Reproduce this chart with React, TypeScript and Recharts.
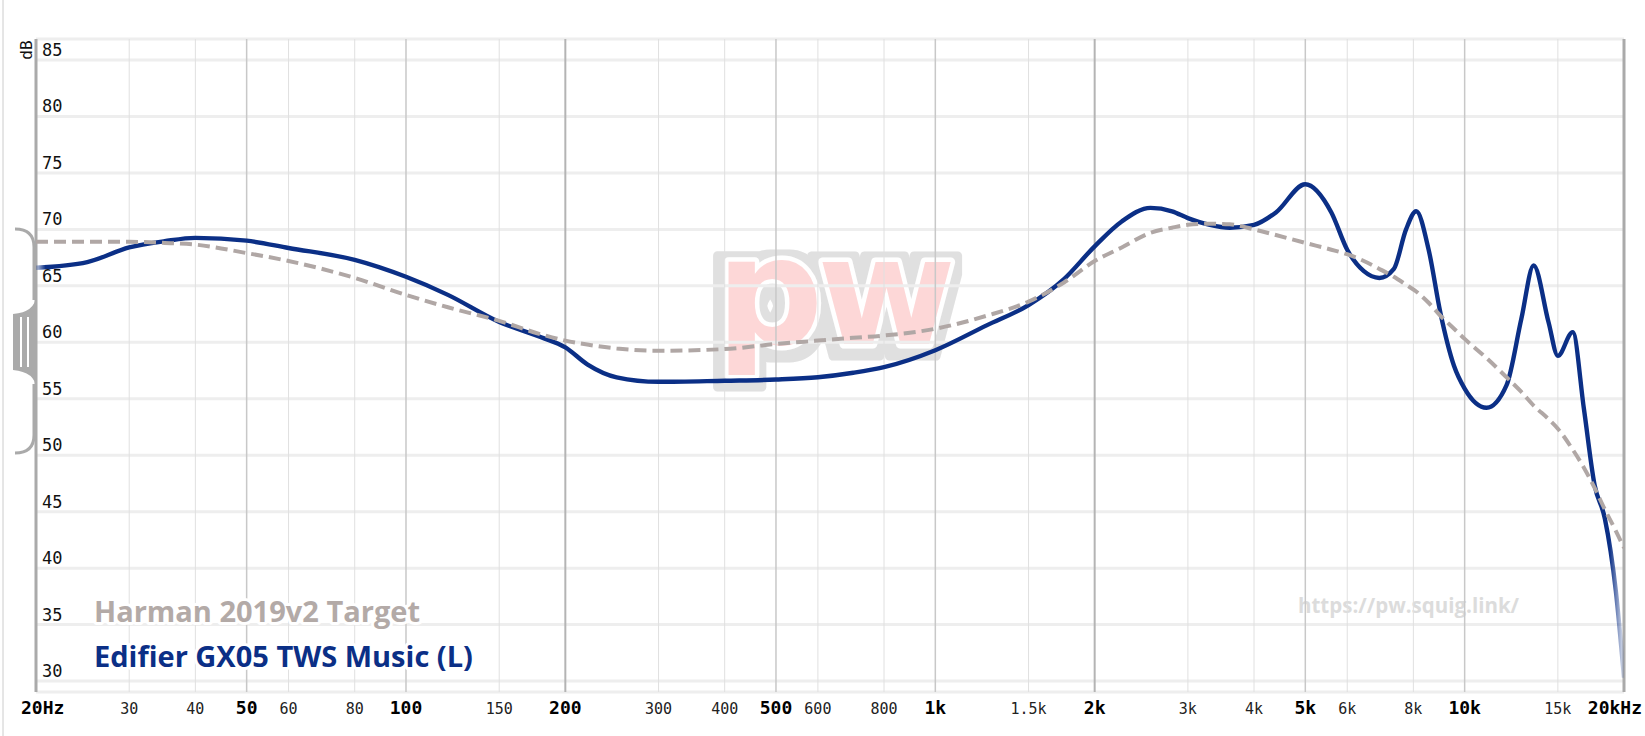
import { LineChart, Line, XAxis, YAxis, CartesianGrid, ReferenceLine } from 'recharts'

const freqs = [
  20, 25, 30, 35, 40, 50, 60, 80, 100, 120,
  150, 180, 200, 220, 250, 300, 400, 500, 600, 700,
  800, 1000, 1250, 1500, 1750, 2000, 2250, 2550, 2800, 3000,
  3300, 3600, 4000, 4400, 5000, 5600, 6000, 6450, 6900, 7350,
  7750, 8100, 8550, 9000, 9550, 10000, 11000, 12000, 12800, 13500,
  14400, 15000, 16000, 16800, 17600, 18400, 19300, 20000,
]

const edifier = [
  66.6, 67.1, 68.4, 68.95, 69.25, 69.0, 68.35, 67.3, 65.8, 64.2,
  61.8, 60.45, 59.55, 58.05, 56.9, 56.5, 56.6, 56.7, 56.9, 57.3,
  57.8, 59.3, 61.5, 63.3, 65.6, 68.5, 70.7, 71.9, 71.6, 71.0,
  70.4, 70.15, 70.4, 71.5, 74.0, 71.5, 68.2, 66.3, 65.7, 66.5,
  70.0, 71.6, 68.2, 62.6, 57.9, 55.9, 54.2, 56.2, 62.1, 66.8,
  61.8, 58.8, 60.9, 54.1, 47.35, 44.4, 38.0, 30.3,
]

const harman = [
  68.9, 68.9, 68.9, 68.8, 68.65, 67.9, 67.2, 65.7, 64.2, 63.1,
  61.9, 60.7, 60.15, 59.8, 59.45, 59.25, 59.4, 59.85, 60.15, 60.4,
  60.6, 61.2, 62.35, 63.6, 65.3, 67.2, 68.4, 69.7, 70.15, 70.4,
  70.5, 70.45, 70.0, 69.5, 68.8, 68.2, 67.8, 67.2, 66.5, 65.8,
  65.1, 64.5, 63.5, 62.35, 61.2, 60.3, 58.6, 56.9, 55.6, 54.4,
  53.2, 52.35, 50.5, 48.9, 47.1, 45.2, 43.3, 41.8,
]

const xTicks = [20, 30, 40, 50, 60, 80, 100, 150, 200, 300, 400, 500, 600, 800, 1000, 1500, 2000, 3000, 4000, 5000, 6000, 8000, 10000, 15000, 20000]
const xLabels = ['20Hz', '30', '40', '50', '60', '80', '100', '150', '200', '300', '400', '500', '600', '800', '1k', '1.5k', '2k', '3k', '4k', '5k', '6k', '8k', '10k', '15k', '20kHz']
const boldTicks = [20, 50, 100, 200, 500, 1000, 2000, 5000, 10000, 20000]
const strongLines = [200, 2000]
const midLines = [50, 100, 500, 1000, 5000, 10000]
const yTicks = [30, 35, 40, 45, 50, 55, 60, 65, 70, 75, 80, 85]

const data = freqs.map((f, i) => ({ f, edifier: edifier[i], harman: harman[i] }))

const MONO = '"DejaVu Sans Mono", monospace'
const SANS = '"Open Sans", "Noto Sans", sans-serif'
const BLUE = '#0b2f86'
const GREY = '#b0a7a5'

function XTick(props: any) {
  const { x, y, payload } = props
  const v = payload.value
  const i = xTicks.indexOf(v)
  const bold = boldTicks.includes(v)
  let anchor = 'middle'
  let dx = 0
  if (v === 20) { anchor = 'start'; dx = -15 }
  if (v === 20000) { anchor = 'end'; dx = 18 }
  return (
    <text x={x + dx} y={y + 22} textAnchor={anchor} fontFamily={MONO}
      fontSize={bold ? 18 : 15} fontWeight={bold ? 'bold' : 'normal'} fill={bold ? '#000' : '#222'}>
      {xLabels[i]}
    </text>
  )
}

function YTick(props: any) {
  const { y, payload } = props
  return (
    <text x={42} y={y - 4} fontFamily={MONO} fontSize={17} fill="#111">{payload.value}</text>
  )
}

function gridColor(f: number) {
  if (f === 20 || f === 20000) return { stroke: '#aaaaaa', w: 3 }
  if (strongLines.includes(f)) return { stroke: '#b4b4b4', w: 2 }
  if (midLines.includes(f)) return { stroke: '#c8c8c8', w: 1.5 }
  return { stroke: '#e0e0e0', w: 1 }
}

export default function App() {
  return (
    <div style={{ position: 'absolute', left: 0, top: 0, width: 1645, height: 736, background: '#fff', overflow: 'hidden' }}>
      {/* watermarks behind the chart */}
      <svg width={1645} height={736} style={{ position: 'absolute', left: 0, top: 0 }}>
        <defs>
          <filter id="logoOutline" x="-20%" y="-20%" width="140%" height="140%">
            <feMorphology in="SourceAlpha" operator="dilate" radius="9" result="fat" />
            <feOffset in="fat" dx="-2" dy="3" result="moved" />
            <feFlood floodColor="#e0e0e0" />
            <feComposite in2="moved" operator="in" result="shadow" />
            <feMerge>
              <feMergeNode in="shadow" />
              <feMergeNode in="SourceGraphic" />
            </feMerge>
          </filter>
        </defs>
        <text x={716} y={344} fontFamily='"DejaVu Sans", sans-serif' fontWeight="bold" fontSize={150} letterSpacing={-6}
          fill="#fdd7d7" stroke="#fff" strokeWidth={9} strokeLinejoin="round" paintOrder="stroke"
          filter="url(#logoOutline)">pw</text>
        <text x={1298} y={613} fontFamily={SANS} fontWeight="bold" fontSize={20.5} fill="#dcdcdc">https://pw.squig.link/</text>
      </svg>

      <div style={{ position: 'absolute', left: 0, top: 0 }}>
        <LineChart width={1645} height={736} data={data} margin={{ top: 39, right: 21, bottom: 14, left: 0 }}>
          <defs>
            <linearGradient id="edifierFade" x1="0" y1="0" x2="1" y2="0">
              <stop offset="0" stopColor={BLUE} stopOpacity={0.25} />
              <stop offset="0.006" stopColor={BLUE} stopOpacity={1} />
              <stop offset="0.991" stopColor={BLUE} stopOpacity={1} />
              <stop offset="1" stopColor={BLUE} stopOpacity={0.1} />
            </linearGradient>
          </defs>
          <CartesianGrid vertical={false} stroke="#eeeeee" strokeWidth={3} />
          <XAxis dataKey="f" type="number" scale="log" domain={[20, 20000]} ticks={xTicks}
            allowDataOverflow interval={0} height={30} axisLine={false} tickLine={false}
            tickSize={0} tickMargin={0} tick={<XTick />} />
          <YAxis type="number" domain={[29.03, 86.86]} ticks={yTicks} width={36} interval={0}
            allowDataOverflow axisLine={false} tickLine={false} tick={<YTick />} />
          {xTicks.map(f => {
            const g = gridColor(f)
            return <ReferenceLine key={f} x={f} stroke={g.stroke} strokeWidth={g.w} />
          })}
          <Line dataKey="edifier" type="monotone" stroke="url(#edifierFade)" strokeWidth={4.4}
            dot={false} activeDot={false} isAnimationActive={false} />
          <Line dataKey="harman" type="monotone" stroke={GREY} strokeWidth={4} strokeDasharray="12 6"
            dot={false} activeDot={false} isAnimationActive={false} />
        </LineChart>
      </div>

      {/* overlay: labels and scaler handle */}
      <svg width={1645} height={736} style={{ position: 'absolute', left: 0, top: 0, pointerEvents: 'none' }}>
        <line x1={3} y1={0} x2={3} y2={736} stroke="#cccccc" strokeWidth={1} />
        <text x={32} y={50} transform="rotate(-90 32 50)" textAnchor="middle" fontFamily={MONO} fontSize={16} fill="#111">dB</text>
        <g stroke="#aaaaaa" strokeWidth={3} fill="none">
          <path d="M 15 229 Q 34 229 34 247 L 34 300" />
          <path d="M 34 384 L 34 435 Q 34 453 15 453" />
        </g>
        <path d="M 36 296 Q 35 312 13 314 L 13 370 Q 35 372 36 388 Z" fill="#aaaaaa" />
        <line x1={21} y1={317} x2={21} y2={367} stroke="#fff" strokeWidth={2} />
        <line x1={28} y1={317} x2={28} y2={367} stroke="#fff" strokeWidth={2} />
        <g fontFamily={SANS} fontWeight="bold" fontSize={29} stroke="#fff" strokeWidth={6} paintOrder="stroke" strokeLinejoin="round">
          <text x={94} y={622} fill="#b3aaa7">Harman 2019v2 Target</text>
          <text x={94} y={667} fill={BLUE}>Edifier GX05 TWS Music (L)</text>
        </g>
      </svg>
    </div>
  )
}
